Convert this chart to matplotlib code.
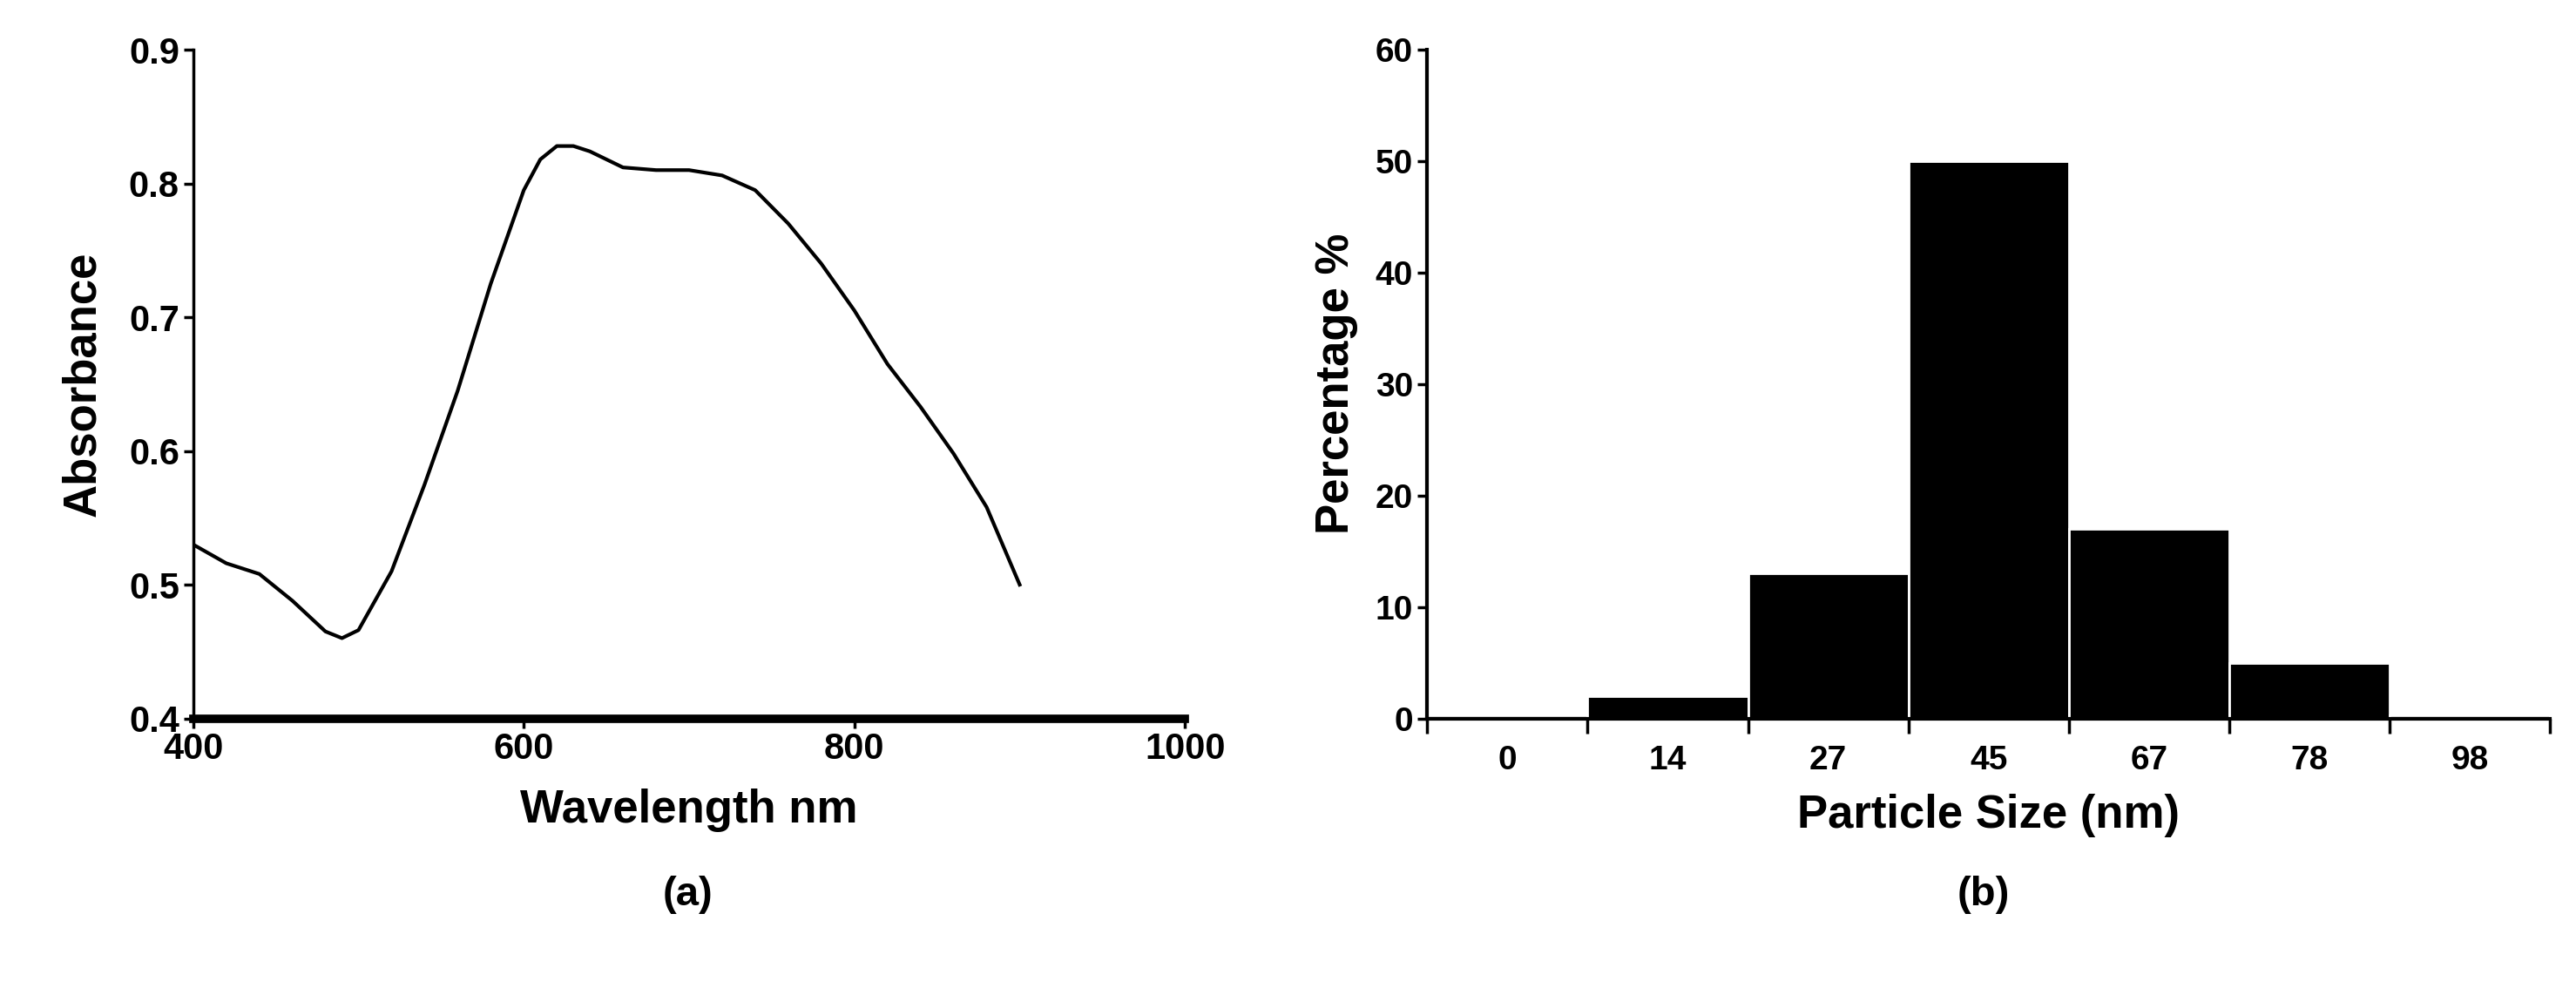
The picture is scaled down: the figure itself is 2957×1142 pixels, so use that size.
import matplotlib
matplotlib.use("Agg")
import matplotlib.pyplot as plt
import numpy as np

wavelength = [400, 420, 440, 460, 480, 490, 500, 520, 540, 560, 580, 600, 610, 620, 630, 640, 660, 680, 700, 720, 740, 760, 780, 800, 820, 840, 860, 880, 900]
absorbance = [0.53, 0.516, 0.508, 0.488, 0.465, 0.46, 0.466, 0.51, 0.575, 0.645, 0.725, 0.795, 0.818, 0.828, 0.828, 0.824, 0.812, 0.81, 0.81, 0.806, 0.795, 0.77, 0.74, 0.705, 0.665, 0.633, 0.598, 0.558, 0.5]
sizes = ["0", "14", "27", "45", "67", "78", "98"]
percent = [0.3, 2, 13, 50, 17, 5, 0.3]

plt.rcParams['font.family'] = ['Liberation Sans', 'DejaVu Sans']
fig = plt.figure(figsize=(29.57, 11.42), dpi=100)

ax1 = fig.add_axes([0.075, 0.278, 0.385, 0.672])
ax1.plot(wavelength, absorbance, color='black', lw=3)
ax1.set_xlim(400, 1000)
ax1.set_ylim(0.4, 0.9)
ax1.set_xticks([400, 600, 800, 1000])
ax1.set_yticks([0.4, 0.5, 0.6, 0.7, 0.8, 0.9])
for s in ['top', 'right']:
    ax1.spines[s].set_visible(False)
ax1.spines['left'].set_linewidth(2.5)
ax1.spines['bottom'].set_linewidth(7)
ax1.tick_params(width=2.5, length=8, labelsize=30)
for t in ax1.get_xticklabels() + ax1.get_yticklabels():
    t.set_fontweight('bold')
ax1.set_xlabel("Wavelength nm", fontsize=38, fontweight='bold', labelpad=18)
ax1.set_ylabel("Absorbance", fontsize=38, fontweight='bold', labelpad=20)
fig.text(0.267, 0.09, "(a)", fontsize=34, fontweight='bold', ha='center')

ax2 = fig.add_axes([0.554, 0.278, 0.436, 0.672])
x = np.arange(len(sizes))
ax2.bar(x, percent, width=1.0, color='black', edgecolor='white', linewidth=2)
ax2.set_xlim(-0.5, len(sizes) - 0.5)
ax2.set_ylim(0, 60)
ax2.set_yticks(range(0, 61, 10))
ax2.set_xticks(np.arange(-0.5, len(sizes)), minor=False)
ax2.set_xticklabels([])
ax2.set_xticks(x, minor=True)
ax2.set_xticklabels(sizes, minor=True)
ax2.tick_params(axis='x', which='minor', length=0, pad=22, labelsize=28)
ax2.tick_params(axis='x', which='major', width=2.5, length=12)
ax2.tick_params(axis='y', width=2.5, length=8, labelsize=28)
for t in ax2.get_xticklabels(minor=True) + ax2.get_yticklabels():
    t.set_fontweight('bold')
for s in ['top', 'right']:
    ax2.spines[s].set_visible(False)
ax2.spines['left'].set_linewidth(3)
ax2.spines['bottom'].set_linewidth(3)
ax2.set_xlabel("Particle Size (nm)", fontsize=38, fontweight='bold', labelpad=14)
ax2.set_ylabel("Percentage %", fontsize=38, fontweight='bold', labelpad=14)
fig.text(0.77, 0.09, "(b)", fontsize=34, fontweight='bold', ha='center')

fig.savefig("out.png", dpi=100)
